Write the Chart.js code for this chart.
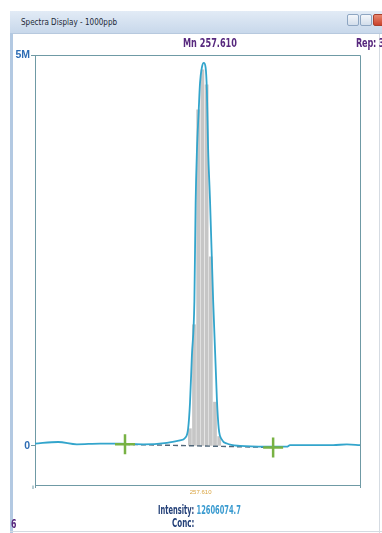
<!DOCTYPE html>
<html lang="en">
<head>
  <meta charset="UTF-8">
  <title>Spectra Display - 1000ppb</title>
  <script src="https://cdn.jsdelivr.net/npm/chart.js"></script>
  <style>
    html, body {
      margin: 0;
      padding: 0;
      background: #ffffff;
    }
    #win {
      position: relative;
      width: 382px;
      height: 533px;
      overflow: hidden;
      background: #ffffff;
      font-family: "DejaVu Sans", sans-serif;
    }
    #spectrum {
      position: absolute;
      left: 0;
      top: 0;
    }
    .txt {
      position: absolute;
      white-space: nowrap;
      font-weight: bold;
      line-height: 1;
      z-index: 2;
      transform: scaleX(0.68);
      transform-origin: left top;
    }
    #titlebar {
      position: absolute;
      left: 10px;
      top: 11px;
      width: 372px;
      height: 22px;
      background: linear-gradient(#e2ebf6, #c8d8eb);
      border-bottom: 1px solid #b7c9de;
      z-index: 2;
    }
    #titlebar span {
      position: absolute;
      left: 11px;
      top: 6px;
      font-family: "DejaVu Sans", sans-serif;
      font-size: 8.5px;
      color: #1d2a38;
      transform: scaleX(0.85);
      transform-origin: left top;
      white-space: nowrap;
    }
    .btn {
      position: absolute;
      top: 3px;
      width: 10px;
      height: 10px;
      border: 1px solid #8ea6c2;
      border-radius: 2px;
      background: linear-gradient(#f4f7fb, #d3deeb);
    }
    #leftborder {
      position: absolute;
      left: 10px;
      top: 33px;
      width: 3px;
      height: 500px;
      background: #b3c9e2;
      z-index: 2;
    }
    #rightborder {
      position: absolute;
      left: 379px;
      top: 33px;
      width: 1px;
      height: 500px;
      background: #d5dbe2;
      z-index: 1;
    }
    #bottomborder {
      position: absolute;
      left: 10px;
      top: 531px;
      width: 372px;
      height: 1px;
      background: #d5dbe2;
      z-index: 2;
    }
  </style>
</head>
<body>
  <div id="win">
    <canvas id="spectrum" width="382" height="533"></canvas>

    <div id="titlebar">
      <span>Spectra Display - 1000ppb</span>
      <div class="btn" style="left:337px;"></div>
      <div class="btn" style="left:350px;"></div>
      <div class="btn" style="left:363px; background:linear-gradient(#e9876f,#c9432c); border-color:#a8402d;"></div>
    </div>
    <div id="leftborder"></div>
    <div id="rightborder"></div>
    <div id="bottomborder"></div>

    <div class="txt" style="left:183px; top:37px; font-size:12px; color:#57287e;">Mn 257.610</div>
    <div class="txt" style="left:356px; top:37px; font-size:12px; color:#57287e; letter-spacing:-0.3px;">Rep: 3</div>
    <div class="txt" style="left:158px; top:505px; font-size:11.5px; transform:scaleX(0.58);"><span style="color:#223f77;">Intensity:</span> <span style="color:#3a9bd0;">12606074.7</span></div>
    <div class="txt" style="left:172px; top:518px; font-size:11.5px; transform:scaleX(0.62); color:#223f77;">Conc:</div>
    <div class="txt" style="left:11px; top:519px; font-size:11.5px; color:#57287e;">6</div>
  </div>

  <script>
    // 測定スペクトル (波長 nm / 強度 M counts)
    const curveWavelengths = [
      257.5835, 257.5872, 257.5902, 257.5939, 257.5971, 257.6008, 257.6046,
      257.6067, 257.6075, 257.6080, 257.6083, 257.6086, 257.6090, 257.6092,
      257.6094, 257.6097, 257.6099, 257.6102, 257.6105, 257.6108, 257.6110,
      257.6112, 257.6115, 257.6120, 257.6126, 257.6129, 257.6134, 257.6142,
      257.6163, 257.6206, 257.6238, 257.6243, 257.6312, 257.6334, 257.6355
    ];
    const curveIntensity = [
      0.03, 0.05, 0.02, 0.03, 0.03, 0.02, 0.04,
      0.07, 0.10, 0.22, 0.55, 1.15, 1.85, 3.10,
      3.75, 4.30, 4.64, 4.84, 4.90, 4.84, 4.55,
      3.80, 3.15, 1.87, 0.60, 0.22, 0.08, 0.03,
      0.00, -0.01, -0.01, 0.01, 0.01, 0.02, 0.01
    ];

    // 積分ポイント (灰色の棒)
    const barWavelengths = [257.60828, 257.60894, 257.60961, 257.61028, 257.61096, 257.61163, 257.61230, 257.61297];
    const barIntensity = [0.22, 1.55, 4.30, 4.81, 4.62, 2.42, 0.56, 0.12];

    // バックグラウンド補正点とベースライン
    const markerWavelengths = [257.5979, 257.6216];
    const markerIntensity = [0.02, -0.02];

    // 軸目盛
    const yTickValues = [0, 5];
    const yTickLabels = ['0', '5M'];
    const xTickValues = [257.610];
    const xTickLabels = ['257.610'];

    const xMin = 257.5835;
    const xMax = 257.6355;
    const yMin = -0.5;
    const yMax = 5;

    const FRAME = '#6f9aa5';
    const AXIS_FONT = '"Liberation Sans", "DejaVu Sans", sans-serif';

    function toPoints(xs, ys) {
      return xs.map((x, i) => ({ x: x, y: ys[i] }));
    }

    // 枠線 (上・右) と軸端の小さな目盛
    const framePlugin = {
      id: 'frame',
      beforeDatasetsDraw(chart) {
        const a = chart.chartArea;
        const ctx = chart.ctx;
        ctx.save();
        ctx.strokeStyle = FRAME;
        ctx.lineWidth = 1;
        ctx.beginPath();
        ctx.moveTo(a.left + 0.5, a.top + 0.5);
        ctx.lineTo(a.right + 0.5, a.top + 0.5);
        ctx.lineTo(a.right + 0.5, a.bottom + 3);
        ctx.moveTo(a.left - 2, a.bottom + 0.5);
        ctx.lineTo(a.left - 2, a.bottom + 4);
        ctx.moveTo(a.left + 0.5, a.bottom);
        ctx.lineTo(a.left + 0.5, a.bottom + 3);
        ctx.stroke();
        ctx.restore();
      }
    };

    new Chart(document.getElementById('spectrum').getContext('2d'), {
      type: 'bar',
      data: {
        datasets: [
          {
            type: 'scatter',
            data: toPoints(markerWavelengths, markerIntensity),
            pointStyle: 'cross',
            pointRadius: 10,
            pointBorderWidth: 2.5,
            borderColor: '#78b244',
            backgroundColor: '#78b244',
            order: 0
          },
          {
            type: 'line',
            data: toPoints(curveWavelengths, curveIntensity),
            borderColor: '#33a5cc',
            borderWidth: 1.8,
            pointRadius: 0,
            cubicInterpolationMode: 'monotone',
            fill: false,
            order: 1
          },
          {
            type: 'line',
            data: toPoints(markerWavelengths, markerIntensity),
            borderColor: '#4f6679',
            borderWidth: 1.4,
            borderDash: [5, 3],
            pointRadius: 0,
            fill: false,
            order: 2
          },
          {
            type: 'bar',
            data: toPoints(barWavelengths, barIntensity),
            backgroundColor: '#c6c6c6',
            borderWidth: 0,
            barThickness: 3.1,
            order: 3
          }
        ]
      },
      options: {
        responsive: false,
        animation: false,
        devicePixelRatio: 1,
        layout: { padding: { left: 0, right: 22, top: 55, bottom: 0 } },
        plugins: {
          legend: { display: false },
          tooltip: { enabled: false },
          title: { display: false }
        },
        scales: {
          x: {
            type: 'linear',
            min: xMin,
            max: xMax,
            offset: false,
            afterBuildTicks(scale) {
              scale.ticks = xTickValues.map(v => ({ value: v }));
            },
            afterFit(scale) {
              scale.height = 48;
            },
            ticks: {
              autoSkip: false,
              maxRotation: 0,
              padding: 1,
              color: '#d9a441',
              font: { family: AXIS_FONT, size: 6 },
              callback: (v) => xTickLabels[xTickValues.indexOf(v)] ?? ''
            },
            grid: {
              drawOnChartArea: false,
              drawTicks: true,
              tickLength: 3,
              color: '#d9a441'
            },
            border: { display: true, color: FRAME, width: 1 }
          },
          y: {
            type: 'linear',
            min: yMin,
            max: yMax,
            afterBuildTicks(scale) {
              scale.ticks = yTickValues.map(v => ({ value: v }));
            },
            afterFit(scale) {
              scale.width = 35;
            },
            ticks: {
              autoSkip: false,
              padding: 1,
              color: '#2e6db4',
              font: { family: AXIS_FONT, size: 10.5, weight: 'bold' },
              callback: (v) => yTickLabels[yTickValues.indexOf(v)] ?? ''
            },
            grid: {
              drawOnChartArea: false,
              drawTicks: true,
              tickLength: 4,
              color: FRAME
            },
            border: { display: true, color: FRAME, width: 1 }
          }
        }
      },
      plugins: [framePlugin]
    });
  </script>
</body>
</html>
